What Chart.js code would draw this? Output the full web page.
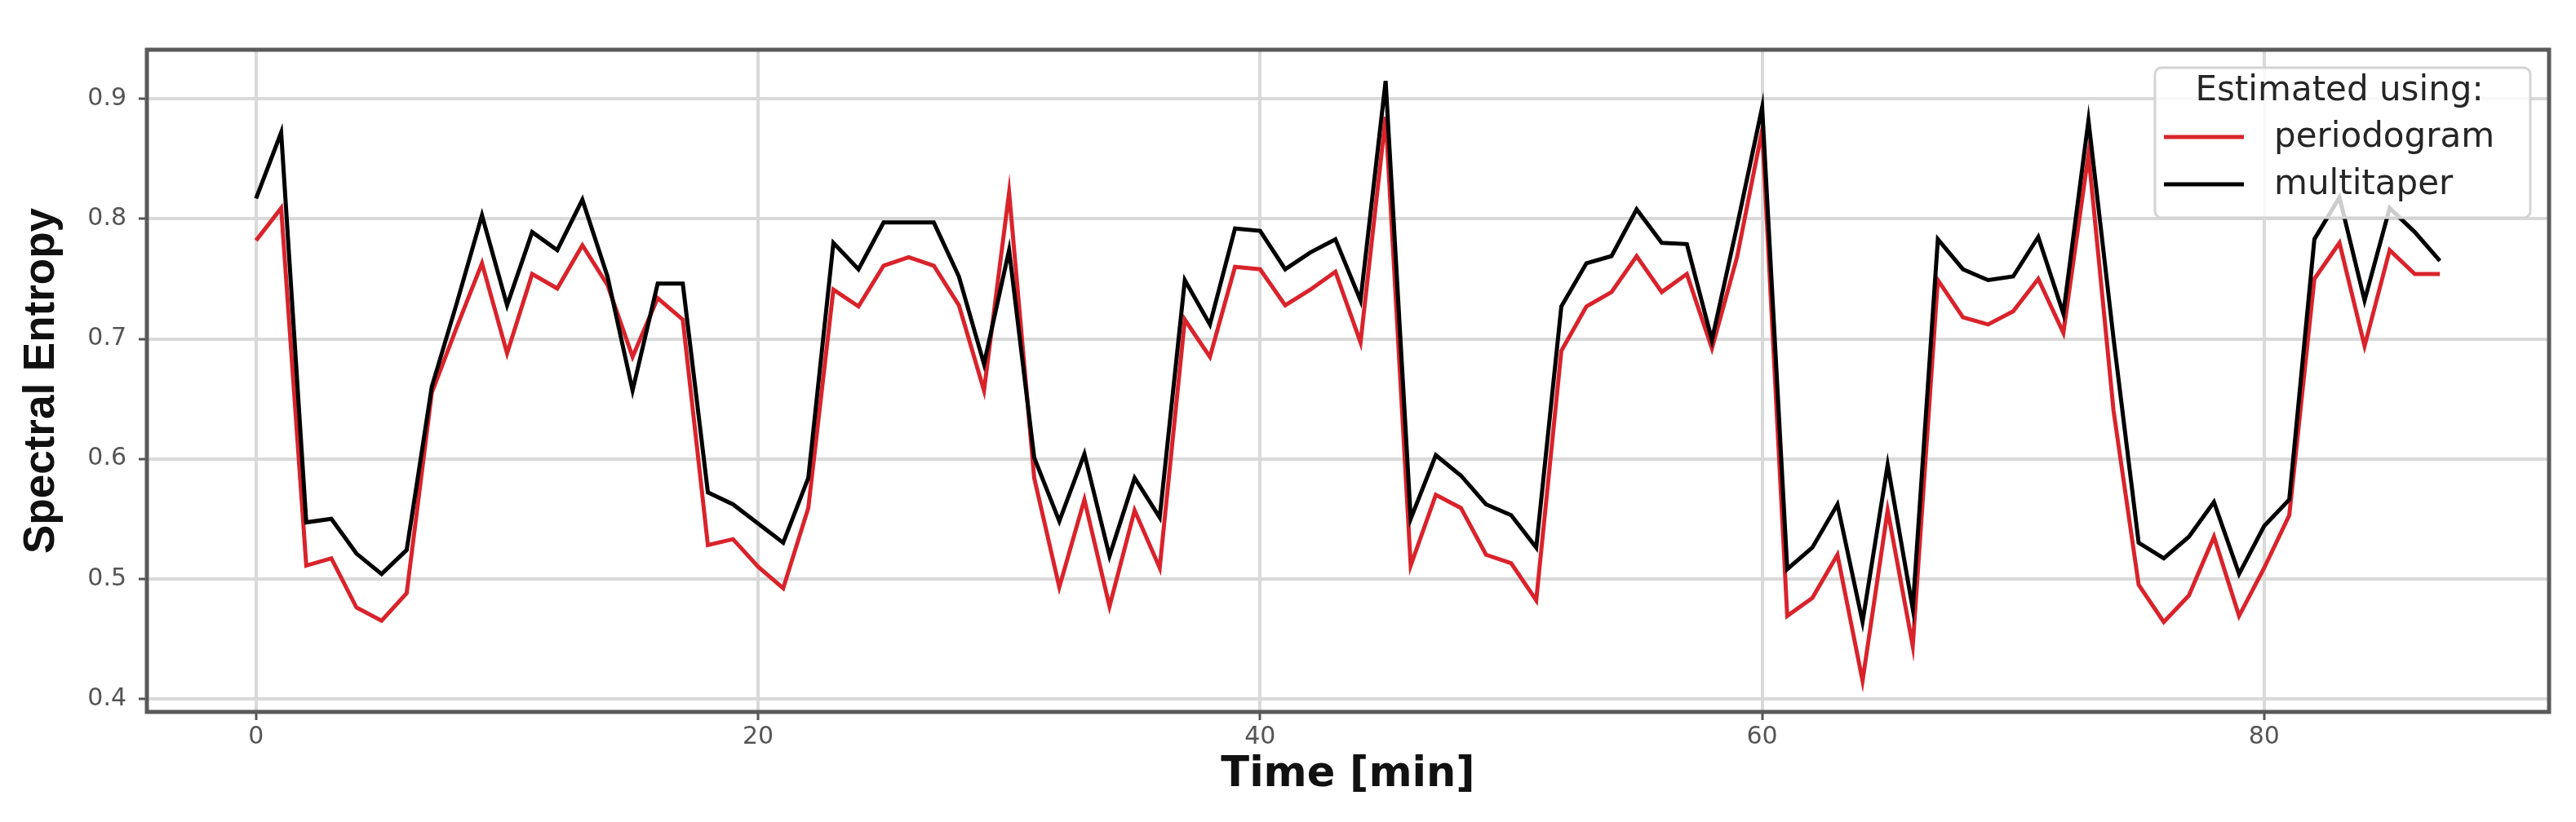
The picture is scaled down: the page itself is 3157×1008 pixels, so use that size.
<!DOCTYPE html>
<html>
<head>
<meta charset="utf-8">
<title>Spectral Entropy</title>
<script src="https://cdn.jsdelivr.net/npm/chart.js@4.4.0/dist/chart.umd.min.js"></script>
<style>
  html, body { margin: 0; padding: 0; background: #fff; }
  canvas { display: block; }
</style>
</head>
<body>
<canvas id="Chart" width="3157" height="1008"></canvas>
<script>
// time axis, one sample per minute
const minutes = [0, 1, 2, 3, 4, 5, 6, 7, 8, 9, 10, 11, 12, 13, 14, 15, 16, 17, 18, 19,
  20, 21, 22, 23, 24, 25, 26, 27, 28, 29, 30, 31, 32, 33, 34, 35, 36, 37, 38, 39,
  40, 41, 42, 43, 44, 45, 46, 47, 48, 49, 50, 51, 52, 53, 54, 55, 56, 57, 58, 59,
  60, 61, 62, 63, 64, 65, 66, 67, 68, 69, 70, 71, 72, 73, 74, 75, 76, 77, 78, 79,
  80, 81, 82, 83, 84, 85, 86, 87];

const periodogram = [0.782, 0.809, 0.511, 0.517, 0.476, 0.465, 0.488, 0.655, 0.710, 0.763,
  0.688, 0.754, 0.742, 0.778, 0.745, 0.685, 0.734, 0.716, 0.528, 0.533,
  0.510, 0.492, 0.559, 0.741, 0.727, 0.761, 0.768, 0.761, 0.728, 0.657,
  0.822, 0.584, 0.493, 0.566, 0.477, 0.557, 0.509, 0.716, 0.685, 0.760,
  0.758, 0.728, 0.741, 0.756, 0.697, 0.885, 0.511, 0.570, 0.559, 0.520,
  0.513, 0.482, 0.690, 0.727, 0.739, 0.769, 0.739, 0.754, 0.692, 0.768,
  0.874, 0.469, 0.484, 0.520, 0.415, 0.557, 0.444, 0.749, 0.718, 0.712,
  0.723, 0.750, 0.705, 0.854, 0.640, 0.495, 0.464, 0.486, 0.535, 0.469,
  0.509, 0.553, 0.750, 0.780, 0.694, 0.774, 0.754, 0.754];

const multitaper = [0.817, 0.872, 0.547, 0.550, 0.521, 0.504, 0.524, 0.660, 0.730, 0.803,
  0.728, 0.789, 0.774, 0.816, 0.752, 0.657, 0.746, 0.746, 0.572, 0.562,
  0.546, 0.530, 0.584, 0.780, 0.758, 0.797, 0.797, 0.797, 0.752, 0.679,
  0.774, 0.601, 0.548, 0.604, 0.519, 0.584, 0.551, 0.749, 0.712, 0.792,
  0.790, 0.758, 0.772, 0.783, 0.732, 0.915, 0.550, 0.603, 0.586, 0.562,
  0.553, 0.526, 0.727, 0.763, 0.769, 0.808, 0.780, 0.779, 0.699, 0.794,
  0.893, 0.508, 0.526, 0.562, 0.464, 0.595, 0.475, 0.783, 0.758, 0.749,
  0.752, 0.785, 0.721, 0.882, 0.700, 0.530, 0.517, 0.535, 0.564, 0.504,
  0.544, 0.566, 0.783, 0.818, 0.732, 0.809, 0.789, 0.765];

const xTicks = [0, 20, 40, 60, 80];
const yTicks = [0.4, 0.5, 0.6, 0.7, 0.8, 0.9];
const seriesNames = ['periodogram', 'multitaper'];
const seriesColors = ['#d9232b', '#000000'];
const legendTitle = 'Estimated using:';

const gridColor = '#d9d9d9';
const tickFont = { family: 'DejaVu Sans', size: 30 };

// white background, axes frame and the in-plot legend box
const frameAndLegend = {
  id: 'frameAndLegend',
  beforeDraw(chart) {
    const ctx = chart.ctx;
    ctx.save();
    ctx.fillStyle = '#fff';
    ctx.fillRect(0, 0, chart.width, chart.height);
    ctx.restore();
  },
  afterDatasetsDraw(chart) {
    const ctx = chart.ctx;
    const a = chart.chartArea;
    ctx.save();
    ctx.strokeStyle = '#5a5a5a';
    ctx.lineWidth = 5;
    ctx.strokeRect(a.left, a.top, a.right - a.left, a.bottom - a.top);

    const bx = a.right - 483, by = a.top + 22, bw = 460, bh = 184;
    ctx.beginPath();
    ctx.roundRect(bx, by, bw, bh, 8);
    ctx.fillStyle = 'rgba(255,255,255,0.8)';
    ctx.fill();
    ctx.strokeStyle = '#d4d4d4';
    ctx.lineWidth = 3;
    ctx.stroke();

    ctx.font = '42px "DejaVu Sans"';
    ctx.fillStyle = '#262626';
    ctx.textBaseline = 'middle';
    ctx.textAlign = 'center';
    ctx.fillText(legendTitle, bx + bw / 2 - 4, a.top + 51);

    ctx.textAlign = 'left';
    seriesNames.forEach((name, i) => {
      const y = a.top + 107 + i * 58;
      ctx.strokeStyle = seriesColors[i];
      ctx.lineWidth = 5;
      ctx.beginPath();
      ctx.moveTo(bx + 11, y);
      ctx.lineTo(bx + 109, y);
      ctx.stroke();
      ctx.fillText(name, bx + 146, y + 1);
    });
    ctx.restore();
  }
};

const ctx = document.getElementById('Chart').getContext('2d');
const entropyChart = new Chart(ctx, {
  type: 'line',
  data: {
    datasets: [
      {
        label: seriesNames[0],
        data: minutes.map((m, i) => ({ x: m, y: periodogram[i] })),
        borderColor: seriesColors[0],
        order: 1
      },
      {
        label: seriesNames[1],
        data: minutes.map((m, i) => ({ x: m, y: multitaper[i] })),
        borderColor: seriesColors[1],
        order: 0
      }
    ]
  },
  options: {
    responsive: false,
    devicePixelRatio: 1,
    animation: false,
    layout: { padding: { left: 0, right: 33, top: 61, bottom: 0 } },
    elements: {
      point: { radius: 0 },
      line: { tension: 0, borderWidth: 5, fill: false }
    },
    plugins: {
      legend: { display: false },
      tooltip: { enabled: false }
    },
    scales: {
      x: {
        type: 'linear',
        min: -4.35,
        max: 91.35,
        afterBuildTicks: s => { s.ticks = xTicks.map(v => ({ value: v })); },
        afterFit: s => { s.height = 135; },
        border: { display: false },
        grid: { color: gridColor, lineWidth: 4, tickLength: 10, tickColor: '#555', tickWidth: 3 },
        ticks: { font: tickFont, color: '#555', padding: 3, maxRotation: 0, callback: v => String(v) },
        title: {
          display: true,
          text: 'Time [min]',
          color: '#111',
          font: { family: 'DejaVu Sans', size: 51, weight: 'bold' },
          padding: { top: 0, bottom: 27 }
        }
      },
      y: {
        type: 'linear',
        min: 0.389,
        max: 0.941,
        afterBuildTicks: s => { s.ticks = yTicks.map(v => ({ value: v })); },
        afterFit: s => { s.width = 180; },
        border: { display: false },
        grid: { color: gridColor, lineWidth: 4, tickLength: 10, tickColor: '#555', tickWidth: 3 },
        ticks: { font: tickFont, color: '#555', padding: 15, callback: v => v.toFixed(1) },
        title: {
          display: true,
          text: 'Spectral Entropy',
          color: '#111',
          font: { family: 'Liberation Sans', size: 53, weight: 'bold' },
          padding: { top: 20, bottom: 0 }
        }
      }
    }
  },
  plugins: [frameAndLegend]
});
</script>
</body>
</html>
